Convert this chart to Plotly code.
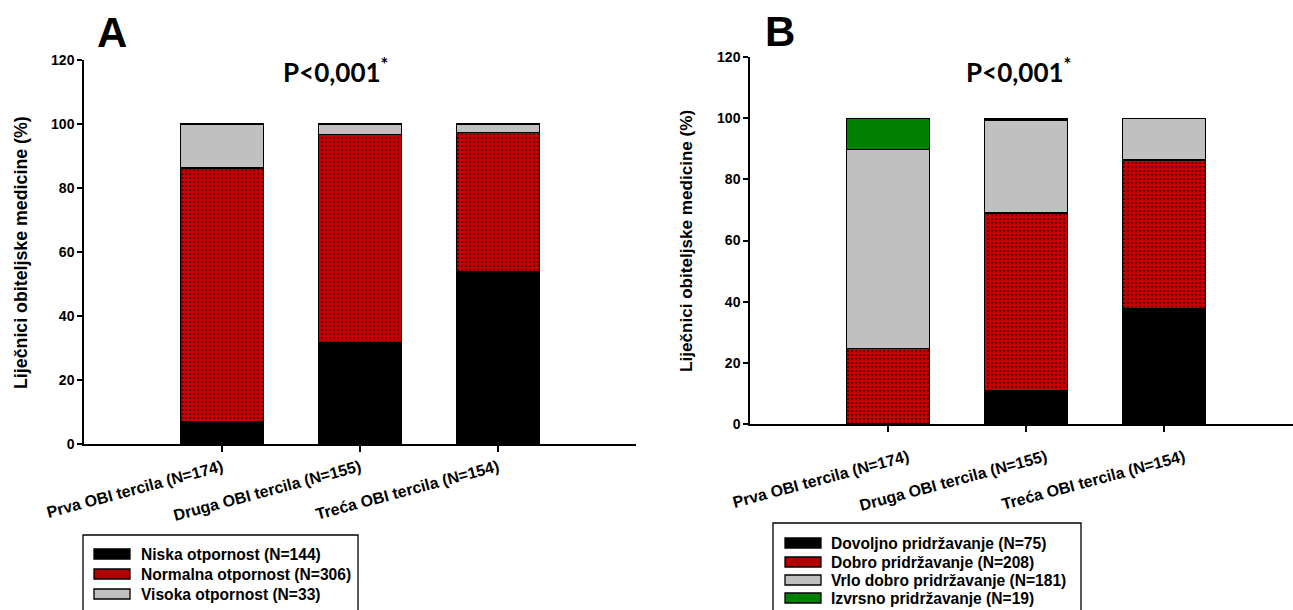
import plotly.graph_objects as go

W, H = 1293, 610

categories = ["Prva OBI tercila (N=174)", "Druga OBI tercila (N=155)", "Treća OBI tercila (N=154)"]
group_n = [174, 155, 154]

# Panel A: counts per tercile
a_names = ["Niska otpornost (N=144)", "Normalna otpornost (N=306)", "Visoka otpornost (N=33)"]
a_niska = [12, 49, 83]
a_normalna = [138, 101, 67]
a_visoka = [24, 5, 4]

# Panel B: counts per tercile
b_names = ["Dovoljno pridržavanje (N=75)", "Dobro pridržavanje (N=208)",
           "Vrlo dobro pridržavanje (N=181)", "Izvrsno pridržavanje (N=19)"]
b_dovoljno = [0, 17, 58]
b_dobro = [43, 90, 75]
b_vrlo = [113, 47, 21]
b_izvrsno = [18, 1, 0]

y_ticks = [0, 20, 40, 60, 80, 100, 120]

BLACK = "#000000"
RED = "#cc0000"
GRAY = "#c0c0c0"
GREEN = "#008000"
FONT = "Liberation Sans, Arial, sans-serif"


def pct(counts):
    return [c / n * 100 for c, n in zip(counts, group_n)]


def px(x):
    return x / W


def py(y):
    return 1 - y / H


def style(color):
    m = dict(color=color, line=dict(color="black", width=1.3))
    if color == RED:
        m["pattern"] = dict(shape=".", fgcolor="black", bgcolor=RED, size=4, solidity=0.3)
    return m


fig = go.Figure()

a_series = [(a_names[0], a_niska, BLACK), (a_names[1], a_normalna, RED), (a_names[2], a_visoka, GRAY)]
for name, vals, col in a_series:
    fig.add_trace(go.Bar(x=categories, y=pct(vals), name=name, marker=style(col),
                         width=0.6, xaxis="x", yaxis="y", showlegend=False))

b_series = [(b_names[0], b_dovoljno, BLACK), (b_names[1], b_dobro, RED),
            (b_names[2], b_vrlo, GRAY), (b_names[3], b_izvrsno, GREEN)]
for name, vals, col in b_series:
    fig.add_trace(go.Bar(x=categories, y=pct(vals), name=name, marker=style(col),
                         width=0.6, xaxis="x2", yaxis="y2", showlegend=False))

axis_common = dict(showgrid=False, zeroline=False, showline=True, linecolor="black",
                   ticks="outside", tickcolor="black", automargin=False)
yfont = dict(family=FONT, size=14, color="black", weight="bold")
xfont = dict(family=FONT, size=16, color="black", weight="bold")

fig.update_layout(
    width=W, height=H, margin=dict(l=0, r=0, t=0, b=0, autoexpand=False),
    paper_bgcolor="white", plot_bgcolor="white",
    barmode="stack", showlegend=False,
    xaxis=dict(domain=[px(84), px(636)], anchor="y", type="category", range=[-1, 3],
               tickangle=-15, ticklen=6, linewidth=2, tickwidth=1.5, tickfont=xfont,
               **axis_common),
    yaxis=dict(domain=[py(444), py(60)], anchor="x", range=[0, 120], tickvals=y_ticks,
               ticklen=5, linewidth=1.5, tickwidth=1.5, tickfont=yfont, **axis_common),
    xaxis2=dict(domain=[px(750), 1.0], anchor="y2", type="category", range=[-1, 2.935],
                tickangle=-15, ticklen=6, linewidth=2, tickwidth=1.5, tickfont=xfont,
                ticklabelshift=20, ticklabelstandoff=10, **axis_common),
    yaxis2=dict(domain=[py(424), py(57)], anchor="x2", range=[0, 120], tickvals=y_ticks,
                ticklen=5, linewidth=1.5, tickwidth=1.5, tickfont=yfont, **axis_common),
)

annotations = []
shapes = []


def note(text, x, y, size, family=FONT, angle=0, xanchor="center", weight="normal"):
    annotations.append(dict(text=text, x=px(x), y=py(y), xref="paper", yref="paper",
                            xanchor=xanchor, yanchor="middle", showarrow=False, textangle=angle,
                            font=dict(family=family, size=size, color="black", weight=weight)))


# Panel letters
note("<b>A</b>", 112, 32, 42)
note("<b>B</b>", 780, 31, 42)
# P values
for cx in (335, 1018):
    note("<b>P<0,001<sup>*</sup></b>", cx, 70, 26, family="Lato, Calibri, sans-serif")
# Y axis titles
note("<b>Liječnici obiteljske medicine (%)</b>", 21, 253, 17.8, angle=-90)
note("<b>Liječnici obiteljske medicine (%)</b>", 687, 241, 17.1, angle=-90)


def legend(box, sw_x0, sw_x1, text_x, rows, items):
    x0, y0, x1, y1 = box
    shapes.append(dict(type="rect", xref="paper", yref="paper", x0=px(x0), x1=px(x1),
                       y0=py(y1), y1=py(y0), line=dict(color="black", width=1.3),
                       fillcolor="rgba(0,0,0,0)"))
    for ry, (name, col) in zip(rows, items):
        shapes.append(dict(type="rect", xref="paper", yref="paper", x0=px(sw_x0), x1=px(sw_x1),
                           y0=py(ry + 5), y1=py(ry - 5), line=dict(color="black", width=1.3),
                           fillcolor="#b00000" if col == RED else col))
        note(name, text_x, ry, 15.6, xanchor="left", weight="bold")


legend((83, 535, 358, 640), 94, 130, 139, [554, 574, 594],
       [(n, c) for n, _, c in a_series])
legend((773, 523, 1081, 640), 785, 821, 829, [543, 562, 580, 598],
       [(n, c) for n, _, c in b_series])

fig.update_layout(annotations=annotations, shapes=shapes)

fig.write_html("out.html")
